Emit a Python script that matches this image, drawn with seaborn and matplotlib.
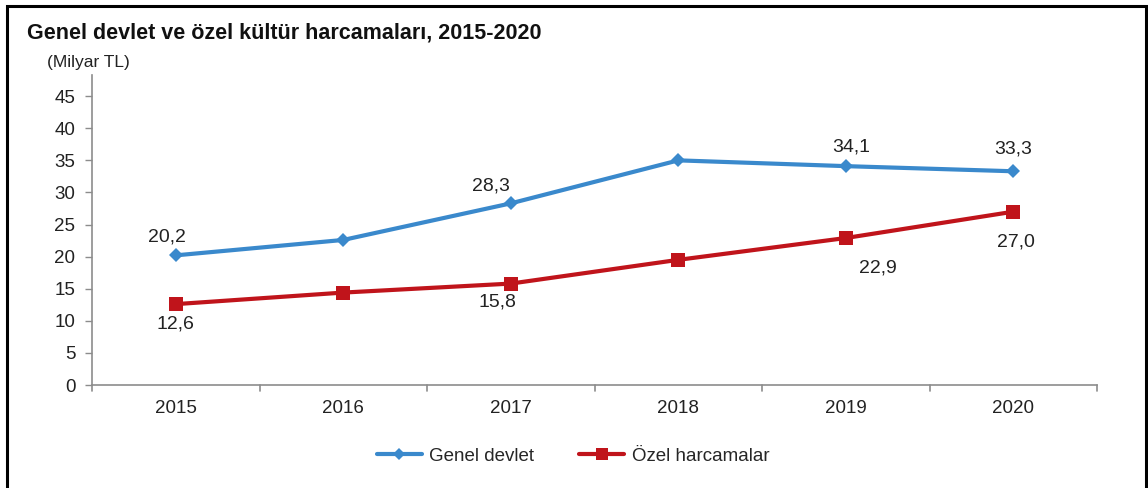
import matplotlib
matplotlib.use("Agg")
import matplotlib.pyplot as plt
from matplotlib.lines import Line2D
import seaborn as sns
import pandas as pd

years = ["2015", "2016", "2017", "2018", "2019", "2020"]
genel_devlet = [20.2, 22.6, 28.3, 35.0, 34.1, 33.3]
ozel_harcamalar = [12.6, 14.4, 15.8, 19.5, 22.9, 27.0]
genel_labels = ["20,2", None, "28,3", None, "34,1", "33,3"]
ozel_labels = ["12,6", None, "15,8", None, "22,9", "27,0"]
y_ticks = [0, 5, 10, 15, 20, 25, 30, 35, 40, 45]

series_names = ["Genel devlet", "Özel harcamalar"]
colors = {"Genel devlet": "#3A89CC", "Özel harcamalar": "#C0141B"}
markers = {"Genel devlet": "D", "Özel harcamalar": "s"}

df = pd.DataFrame({
    "year": years * 2,
    "x": list(range(len(years))) * 2,
    "value": genel_devlet + ozel_harcamalar,
    "series": [series_names[0]] * len(years) + [series_names[1]] * len(years),
})

sns.set_style("white")
plt.rcParams["font.family"] = ["Liberation Sans", "DejaVu Sans"]

DPI = 100
fig = plt.figure(figsize=(11.48, 4.88), dpi=DPI)
ax = fig.add_axes([92 / 1148, 1 - 385 / 488, (1097 - 92) / 1148, (385 - 75) / 488])

sns.lineplot(data=df, x="x", y="value", hue="series", style="series",
             palette=colors, markers=markers, dashes=False, linewidth=3,
             markersize=8, markeredgewidth=0, legend=False, ax=ax, sort=False)
# squares slightly larger than the diamonds
for line in ax.get_lines():
    if line.get_marker() == "s":
        line.set_markersize(10)
    elif line.get_marker() == "D":
        line.set_markersize(7)

ax.set_xlim(-0.5, len(years) - 0.5)
ax.set_ylim(0, 48.3)
ax.set_yticks(y_ticks)
ax.set_yticklabels([str(t) for t in y_ticks])
ax.set_xticks(range(len(years)))
ax.set_xticklabels(years)
ax.set_xlabel("")
ax.set_ylabel("")

for side in ["top", "right"]:
    ax.spines[side].set_visible(False)
for side in ["left", "bottom"]:
    ax.spines[side].set_color("#8c8c8c")
    ax.spines[side].set_linewidth(1.2)

# y ticks as short outward marks, x ticks at category boundaries
ax.tick_params(axis="y", length=5, width=1, color="#8c8c8c", direction="out",
               labelsize=13.5, labelcolor="#222222", pad=7, left=True)
ax.tick_params(axis="x", length=0, labelsize=13.5, labelcolor="#222222", pad=11)
for b in [i - 0.5 for i in range(len(years) + 1)]:
    ax.plot([b, b], [0, -0.9], color="#8c8c8c", lw=1.2, clip_on=False)

# value labels, each nudged (in pixels) clear of its line
genel_nudge = {0: (-9, 18), 2: (-20, 17), 4: (5, 19), 5: (0, 22)}
ozel_nudge = {0: (0, -20), 2: (-13, -18), 4: (32, -30), 5: (3, -30)}
px = 72 / DPI
for values, labels, nudge in [(genel_devlet, genel_labels, genel_nudge),
                              (ozel_harcamalar, ozel_labels, ozel_nudge)]:
    for i, lab in enumerate(labels):
        if lab:
            dx, dy = nudge[i]
            ax.annotate(lab, (i, values[i]), xytext=(dx * px, dy * px),
                        textcoords="offset points", ha="center", va="center",
                        fontsize=14, color="#222222")

fig.text(27 / 1148, 1 - 33 / 488, "Genel devlet ve özel kültür harcamaları, 2015-2020",
         fontsize=15.5, fontweight="bold", ha="left", va="center", color="#111111")
fig.text(47 / 1148, 1 - 62 / 488, "(Milyar TL)", fontsize=12.5, ha="left", va="center",
         color="#222222")

handles = [Line2D([], [], color=colors[n], marker=markers[n], lw=3,
                  markersize=(6 if markers[n] == "D" else 8), markeredgewidth=0)
           for n in series_names]
fig.legend(handles, series_names, loc="center", bbox_to_anchor=(573 / 1148, 1 - 456 / 488),
           ncol=2, frameon=False, fontsize=13.5, handlelength=2.4, handletextpad=0.4,
           columnspacing=2.4)

# outer frame
fig.add_artist(plt.Rectangle((7 / 1148, -0.05), (1146 - 7) / 1148, 1.05 - 6 / 488,
                             transform=fig.transFigure, fill=False, edgecolor="black",
                             linewidth=2.2))

fig.savefig("out.png", dpi=DPI, facecolor="white")
